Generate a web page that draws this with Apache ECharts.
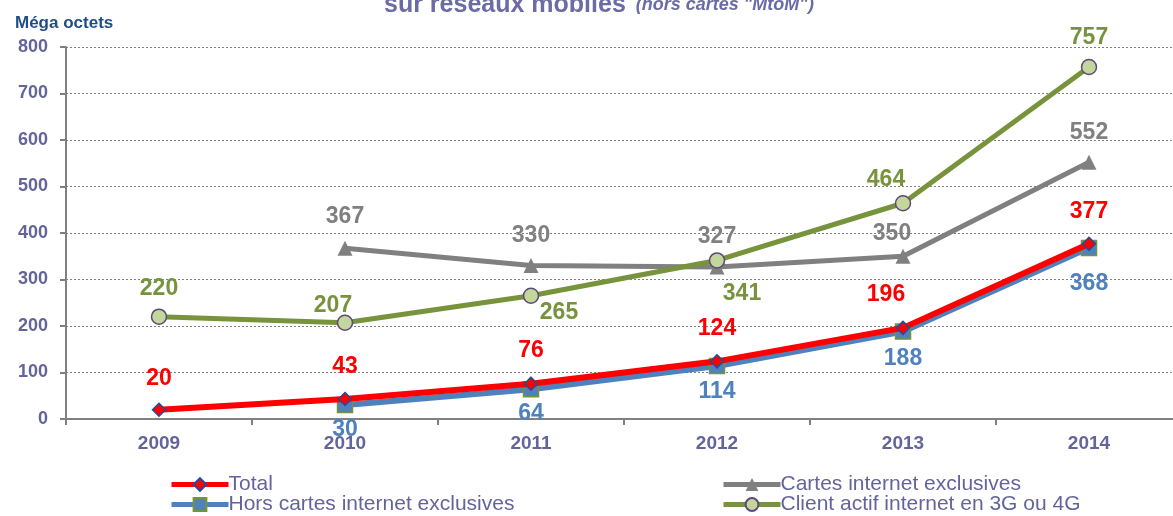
<!DOCTYPE html>
<html>
<head>
<meta charset="utf-8">
<script src="https://cdn.jsdelivr.net/npm/echarts@6/dist/echarts.min.js"></script>
<style>
    html, body { margin: 0; padding: 0; background: #fff; overflow: hidden; }
    #chart { width: 1173px; height: 516px; }
</style>
</head>
<body>
<div id="chart"></div>
<script>
// données
const years = ['2009', '2010', '2011', '2012', '2013', '2014'];
const totalData = [20, 43, 76, 124, 196, 377];
const cartesData = [null, 367, 330, 327, 350, 552];
const horsCartesData = [null, 30, 64, 114, 188, 368];
const clientData = [220, 207, 265, 341, 464, 757];

const textColor = '#64649c';

// décalages des étiquettes (style uniquement)
function withLabels(values, offsets, color, pos) {
    return values.map(function(v, i) {
        if (v === null) return null;
        return {
            value: v,
            label: {
                show: true,
                position: pos,
                offset: offsets[i] || [0, 0],
                color: color,
                fontSize: 23,
                fontWeight: 'bold',
                fontFamily: 'Liberation Sans'
            }
        };
    });
}

const chart = echarts.init(document.getElementById('chart'));

const option = {
    animation: false,
    title: [
        {
            text: '{b|sur réseaux mobiles}  {i|(hors cartes "MtoM")}',
            left: 379,
            top: -12,
            textStyle: {
                rich: {
                    b: { fontSize: 25, fontWeight: 'bold', color: '#6b6ba6', fontFamily: 'Liberation Sans' },
                    i: { fontSize: 18, fontWeight: 'bold', fontStyle: 'italic', color: '#6b6ba6', fontFamily: 'Liberation Sans' }
                }
            }
        },
        {
            text: 'Méga octets',
            left: 10,
            top: 10,
            textStyle: { fontSize: 17, fontWeight: 'bold', color: '#1f4e86', fontFamily: 'Liberation Sans' }
        }
    ],
    legend: [
        { left: 169, top: 474, data: ['Total'] },
        { left: 721, top: 474, data: ['Cartes internet exclusives'] },
        { left: 169, top: 494, data: ['Hors cartes internet exclusives'] },
        { left: 721, top: 494, data: ['Client actif internet en 3G ou 4G'] }
    ].map(function(l) {
        return Object.assign(l, {
            itemWidth: 57,
            itemHeight: 16,
            itemGap: 4,
            padding: 0,
            lineStyle: { width: 5 },
            textStyle: { fontSize: 21, color: textColor, fontFamily: 'Liberation Sans', padding: [0, 0, 0, -5] }
        });
    }),
    grid: {
        left: 66,
        width: 1116,
        top: 47,
        bottom: 97,
        outerBoundsMode: 'none'
    },
    xAxis: {
        type: 'category',
        data: years,
        boundaryGap: true,
        axisLine: { lineStyle: { color: '#808080', width: 2 } },
        axisTick: { show: true, length: 6, lineStyle: { color: '#808080', width: 2 } },
        axisLabel: { margin: 15, fontSize: 19, fontWeight: 'bold', color: textColor, fontFamily: 'Liberation Sans' }
    },
    yAxis: {
        type: 'value',
        min: 0,
        max: 800,
        interval: 100,
        axisLine: { show: true, lineStyle: { color: '#808080', width: 2 } },
        axisTick: { show: true, length: 6, lineStyle: { color: '#808080', width: 2 } },
        axisLabel: { margin: 18, fontSize: 18, fontWeight: 'bold', color: textColor, fontFamily: 'Liberation Sans' },
        splitLine: { lineStyle: { color: '#808080', type: [2, 2], width: 1 } }
    },
    series: [
        {
            name: 'Total',
            type: 'line',
            data: withLabels(totalData, [[0, -7], [0, -9], [0, -9], [0, -9], [-17, -9], [0, -8]], '#ff0000', 'top'),
            z: 4,
            lineStyle: { color: '#ff0000', width: 6 },
            itemStyle: { color: '#ff0000', borderColor: '#1f4e9c', borderWidth: 1.5 },
            symbol: 'diamond',
            symbolSize: 13
        },
        {
            name: 'Cartes internet exclusives',
            type: 'line',
            data: withLabels(cartesData, [[0, 0], [0, -8], [0, -6], [0, -6], [-11, 1], [0, -6]], '#808080', 'top'),
            lineStyle: { color: '#808080', width: 5 },
            itemStyle: { color: '#808080' },
            symbol: 'triangle',
            symbolSize: 15
        },
        {
            name: 'Hors cartes internet exclusives',
            type: 'line',
            data: withLabels(horsCartesData, [[0, 0], [0, 0], [0, 0], [0, 1], [0, 2], [0, 11]], '#4f81bd', 'bottom'),
            z: 3,
            lineStyle: { color: '#4f81bd', width: 6 },
            itemStyle: { color: '#4f81bd', borderColor: '#77933c', borderWidth: 1.5 },
            symbol: 'rect',
            symbolSize: 15
        },
        {
            name: 'Client actif internet en 3G ou 4G',
            type: 'line',
            data: withLabels(clientData, [[0, -3], [-12, 8], [28, 42], [25, 58], [-17, 1], [0, -5]], '#77933c', 'top'),
            lineStyle: { color: '#77933c', width: 5 },
            itemStyle: { color: '#c3d69b', borderColor: '#5f497a', borderWidth: 1.5 },
            symbol: 'circle',
            symbolSize: 15
        }
    ]
};

chart.setOption(option);

window.addEventListener('resize', function() {
    chart.resize();
});
</script>
</body>
</html>
